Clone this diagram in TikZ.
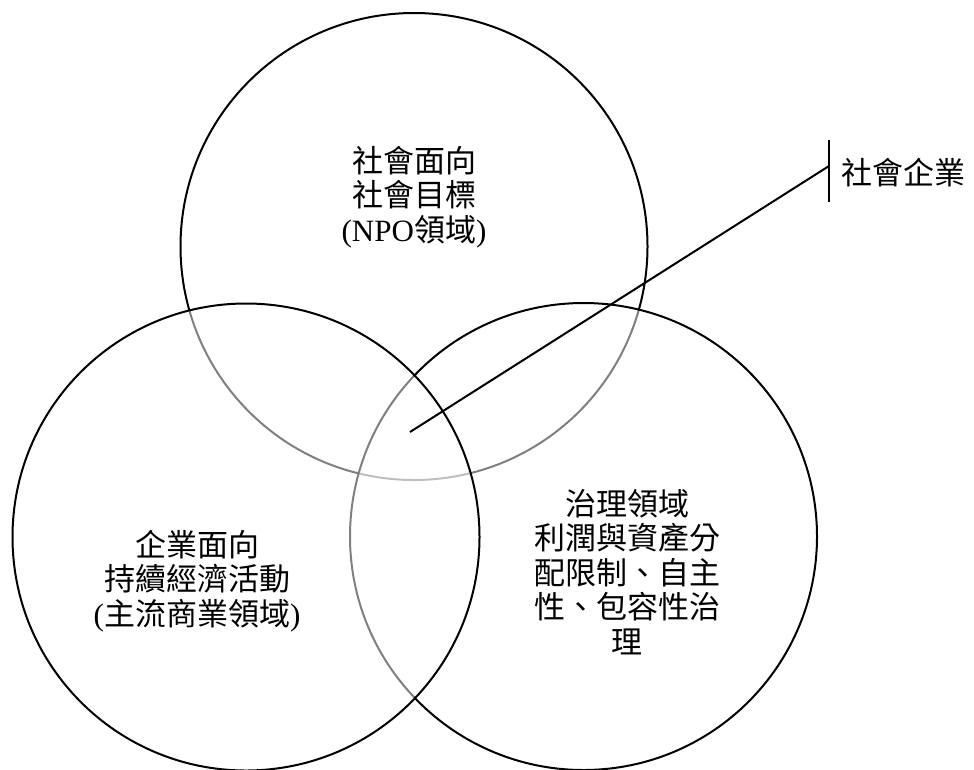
\documentclass[tikz,border=0pt]{standalone}
\usepackage{fontspec}
\setmainfont{Liberation Serif}
\newfontfamily\cjk{Noto Sans CJK TC}
\begin{document}
\begin{tikzpicture}[x=1pt,y=-1pt,
  venn/.style={circle, draw=black, line width=2pt, fill=white, fill opacity=0.5, draw opacity=1, minimum size=467pt, inner sep=0pt},
  lbl/.style={align=center, inner sep=0pt, font=\cjk\fontsize{31}{34.5}\selectfont, text=black},
  conn/.style={line width=2pt, draw=black}]
\useasboundingbox (0,0) rectangle (974,769);
\node[venn] (ctop) at (414,246.5) {};
\node[venn] (cright) at (583.5,536.5) {};
\node[venn] (cleft) at (246,537) {};
\node[lbl] (ttop) at (414,197) {社會面向\\社會目標\\{\rmfamily (NPO}領域{\rmfamily )}};
\node[lbl] (tleft) at (197,581) {企業面向\\持續經濟活動\\{\rmfamily (}主流商業領域{\rmfamily )}};
\node[lbl] (tright) at (627,572) {治理領域\\利潤與資產分\\配限制、自主\\性、包容性治\\理};
\coordinate (p) at (410,432);
\coordinate (q) at (829,166);
\coordinate (b1) at (829,140);
\coordinate (b2) at (829,202);
\draw[conn] (p) -- (q);
\draw[conn] (b1) -- (b2);
\node[lbl, anchor=west] (se) at (841,173) {社會企業};
\end{tikzpicture}
\end{document}
